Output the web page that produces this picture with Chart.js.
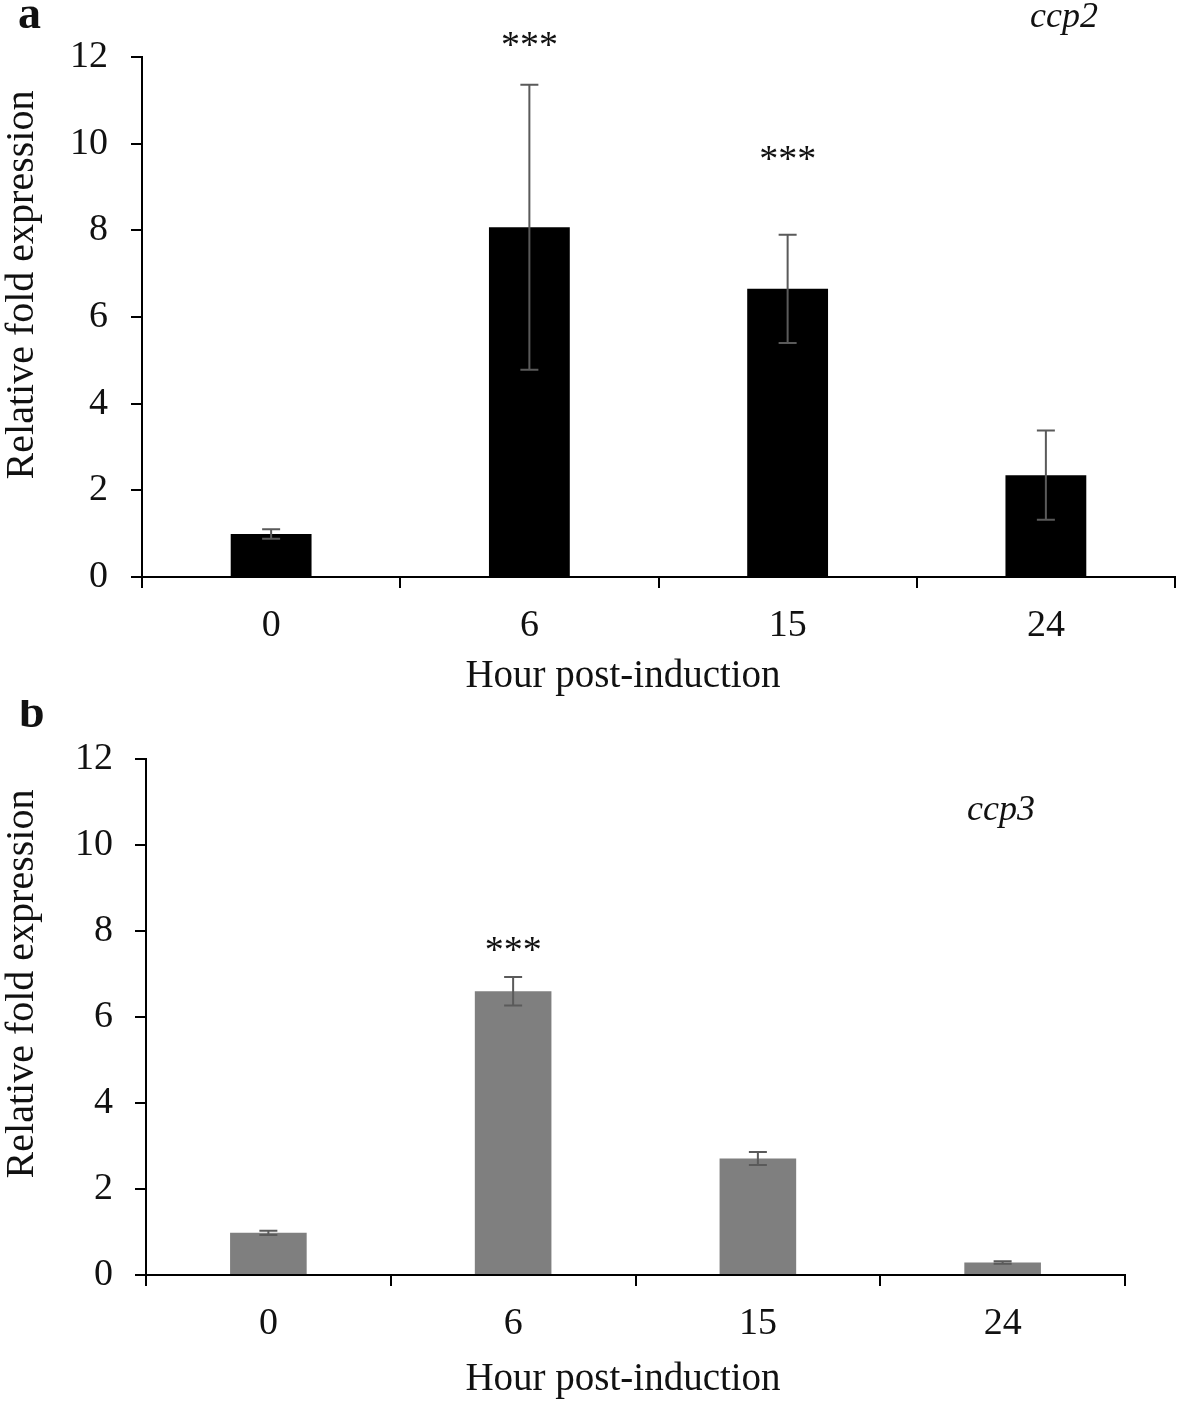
<!DOCTYPE html>
<html>
<head>
<meta charset="utf-8">
<script src="https://cdn.jsdelivr.net/npm/chart.js@4"></script>
<style>
  html, body { margin: 0; padding: 0; background: #fff; }
  #wrap { position: relative; width: 1181px; height: 1403px; }
  .panel { position: absolute; left: 0; }
</style>
</head>
<body>
<div id="wrap">
  <div class="panel" style="top:0"><canvas id="chartA" width="1181" height="700"></canvas></div>
  <div class="panel" style="top:700px"><canvas id="chartB" width="1181" height="703"></canvas></div>
</div>
<script>
// Data
var hours = ['0', '6', '15', '24'];
var yTicks = [0, 2, 4, 6, 8, 10, 12];

var ccp2Mean = [0.99, 8.07, 6.65, 2.35];
var ccp2Err = [0.11, 3.29, 1.25, 1.03];
var ccp2Stars = [null, 12.4, 9.75, null];   // y (data units) of the *** marks

var ccp3Mean = [0.98, 6.6, 2.71, 0.29];
var ccp3Err = [0.05, 0.33, 0.15, 0.03];
var ccp3Stars = [null, 7.67, null, null];

var SERIF = "'Liberation Serif', 'Times New Roman', serif";

/** Error bars, significance stars and the text around each panel */
function overlayPlugin(cfg) {
    return {
        id: 'overlay',
        afterDatasetsDraw: function(chart) {
            var ctx = chart.ctx, xs = chart.scales.x, ys = chart.scales.y;
            ctx.save();
            ctx.strokeStyle = '#5a5a5a';
            ctx.lineWidth = 2;
            cfg.means.forEach(function(m, i) {
                var px = xs.getPixelForValue(i);
                var top = ys.getPixelForValue(m + cfg.errs[i]);
                var bot = ys.getPixelForValue(m - cfg.errs[i]);
                ctx.beginPath();
                ctx.moveTo(px, top); ctx.lineTo(px, bot);
                ctx.moveTo(px - 9, top); ctx.lineTo(px + 9, top);
                ctx.moveTo(px - 9, bot); ctx.lineTo(px + 9, bot);
                ctx.stroke();
            });
            ctx.restore();
        },
        afterDraw: function(chart) {
            var ctx = chart.ctx, xs = chart.scales.x, ys = chart.scales.y;
            ctx.save();
            ctx.fillStyle = '#111';

            // stars
            ctx.font = '38px ' + SERIF;
            ctx.textAlign = 'center';
            ctx.textBaseline = 'middle';
            cfg.stars.forEach(function(s, i) {
                if (s === null) return;
                ctx.fillText('***', xs.getPixelForValue(i), ys.getPixelForValue(s) + 7);
            });

            // panel letter
            ctx.textAlign = 'left';
            ctx.textBaseline = 'alphabetic';
            ctx.font = 'bold 46px ' + SERIF;
            ctx.fillText(cfg.letter, cfg.letterX, cfg.letterY);

            // gene name
            ctx.font = 'italic 36px ' + SERIF;
            ctx.fillText(cfg.gene, cfg.geneX, cfg.geneY);

            // x title
            ctx.font = '39px ' + SERIF;
            ctx.textAlign = 'center';
            ctx.fillText('Hour post-induction', 623, cfg.xTitleY);

            // y title
            ctx.translate(33, cfg.yTitleMid);
            ctx.rotate(-Math.PI / 2);
            ctx.font = '40px ' + SERIF;
            ctx.fillText('Relative fold expression', 0, 0);
            ctx.restore();
        }
    };
}

function makeChart(id, means, color, box, overlay) {
    return new Chart(document.getElementById(id), {
        type: 'bar',
        data: {
            labels: hours,
            datasets: [{
                data: means,
                backgroundColor: color,
                borderWidth: 0,
                categoryPercentage: 1,
                barPercentage: 0.313
            }]
        },
        options: {
            responsive: false,
            animation: false,
            devicePixelRatio: 1,
            layout: { padding: { top: box.top, right: box.right, left: 0, bottom: 0 } },
            plugins: { legend: { display: false }, tooltip: { enabled: false } },
            scales: {
                x: {
                    grid: { display: true, drawOnChartArea: false, drawTicks: true, tickLength: 11, color: '#000', lineWidth: 2, offset: true },
                    border: { display: true, color: '#000', width: 2 },
                    ticks: { color: '#111', font: { family: SERIF, size: 38 }, padding: 15, maxRotation: 0 },
                    afterFit: function(s) { s.height = box.xHeight; }
                },
                y: {
                    min: 0,
                    max: 12,
                    afterBuildTicks: function(s) { s.ticks = yTicks.map(function(v) { return { value: v }; }); },
                    grid: { display: true, drawOnChartArea: false, drawTicks: true, tickLength: 11, color: '#000', lineWidth: 2 },
                    border: { display: true, color: '#000', width: 2 },
                    ticks: { color: '#111', font: { family: SERIF, size: 38 }, padding: box.tickPad },
                    afterFit: function(s) { s.width = box.yWidth; }
                }
            }
        },
        plugins: [overlay]
    });
}

makeChart('chartA', ccp2Mean, '#000000',
    { top: 57, right: 6, xHeight: 123, yWidth: 142, tickPad: 23 },
    overlayPlugin({ means: ccp2Mean, errs: ccp2Err, stars: ccp2Stars,
        letter: 'a', letterX: 18, letterY: 28,
        gene: 'ccp2', geneX: 1030, geneY: 27,
        xTitleY: 687, yTitleMid: 285 }));

makeChart('chartB', ccp3Mean, '#7f7f7f',
    { top: 59, right: 56, xHeight: 128, yWidth: 146, tickPad: 22 },
    overlayPlugin({ means: ccp3Mean, errs: ccp3Err, stars: ccp3Stars,
        letter: 'b', letterX: 19, letterY: 27,
        gene: 'ccp3', geneX: 967, geneY: 120,
        xTitleY: 690, yTitleMid: 284 }));
</script>
</body>
</html>
